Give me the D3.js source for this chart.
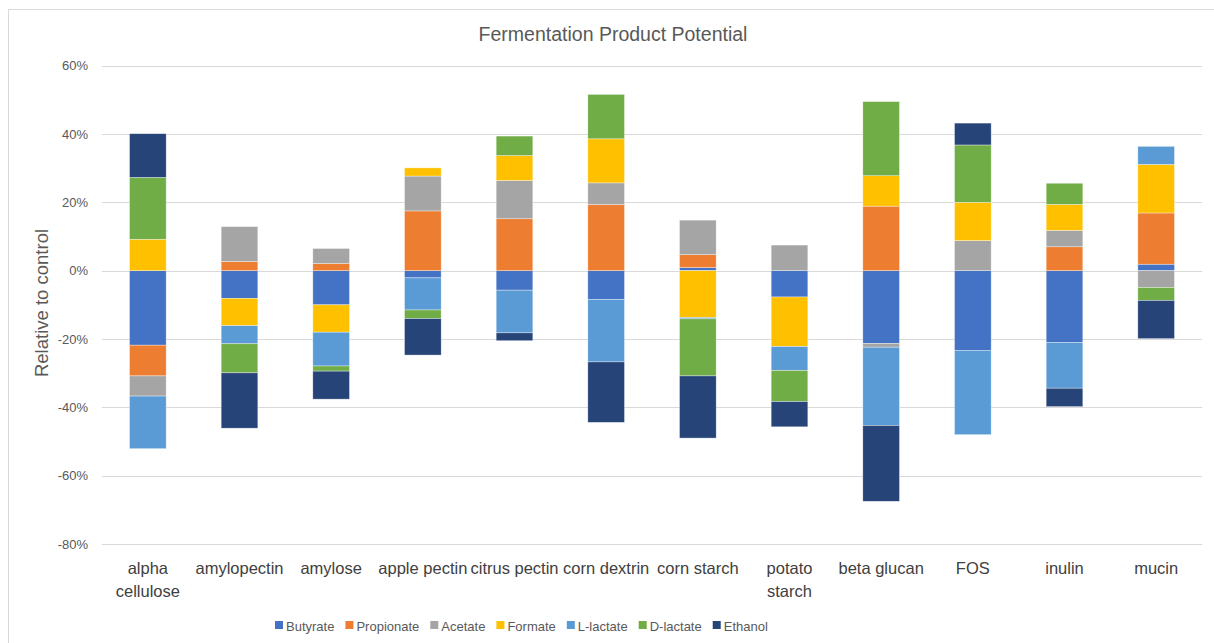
<!DOCTYPE html>
<html><head><meta charset="utf-8">
<script src="https://cdn.jsdelivr.net/npm/d3@7"></script>
<style>body{margin:0;background:#fff;} text{font-family:"Liberation Sans",Arial,sans-serif;}</style>
</head><body><svg id="c" width="1214" height="643"></svg>
<script>
const categories = ["alpha\ncellulose","amylopectin","amylose","apple pectin","citrus pectin","corn dextrin","corn starch","potato\nstarch","beta glucan","FOS","inulin","mucin"];
const seriesNames = ["Butyrate","Propionate","Acetate","Formate","L-lactate","D-lactate","Ethanol"];
const butyrate   = [-21.8, -8.1, -10.0, -2.1, -5.7, -8.4, 0.9, -7.7, -21.3, -23.3, -21.0, 1.9];
const propionate = [-9.0, 2.7, 2.1, 17.5, 15.2, 19.4, 3.8, 0, 18.9, 0, 7.0, 15.0];
const acetate    = [-5.9, 10.2, 4.4, 10.2, 11.2, 6.3, 10.1, 7.5, -1.1, 8.8, 4.8, -4.9];
const formate    = [9.2, -8.0, -8.0, 2.4, 7.3, 12.9, -13.7, -14.5, 8.9, 11.2, 7.6, 14.2];
const llactate   = [-15.4, -5.3, -9.9, -9.4, -12.5, -18.3, -0.4, -7.0, -22.9, -24.7, -13.4, 5.3];
const dlactate   = [18.1, -8.5, -1.5, -2.5, 5.7, 13.0, -16.7, -9.1, 21.7, 16.8, 6.2, -3.8];
const ethanol    = [12.8, -16.2, -8.2, -10.7, -2.3, -17.7, -18.2, -7.4, -22.2, 6.4, -5.4, -11.2];
const yTicks = [-80,-60,-40,-20,0,20,40,60];
const colors = ["#4472C4","#ED7D31","#A5A5A5","#FFC000","#5B9BD5","#70AD47","#264478"];

const seriesValues = [butyrate, propionate, acetate, formate, llactate, dlactate, ethanol];
const rows = categories.map((c,i)=>{const r={cat:c}; seriesNames.forEach((s,j)=>r[s]=seriesValues[j][i]); return r;});

const svg = d3.select("#c");
const txt = "#595959";
svg.append("rect").attr("x",8.5).attr("y",9.5).attr("width",1240).attr("height",700)
  .attr("fill","none").attr("stroke","#d9d9d9").attr("stroke-width",1);

const x = d3.scaleBand().domain(categories).range([102,1202]).paddingInner(0.6).paddingOuter(0.3);
const y = d3.scaleLinear().domain([-80,60]).range([544,65.7]);

svg.append("g").selectAll("line").data(yTicks).join("line")
  .attr("x1",102).attr("x2",1202).attr("y1",d=>Math.round(y(d))+0.5).attr("y2",d=>Math.round(y(d))+0.5)
  .attr("stroke","#d9d9d9").attr("stroke-width",1);

const yAxis = d3.axisLeft(y).tickValues(yTicks).tickFormat(d=>d+"%").tickSize(0).tickPadding(14);
const ga = svg.append("g").attr("transform","translate(102,0)").call(yAxis);
ga.select(".domain").remove();
ga.selectAll("text").attr("fill",txt).style("font-size","13px").style("font-family","'Liberation Sans',Arial,sans-serif");

const stack = d3.stack().keys(seriesNames).offset(d3.stackOffsetDiverging);
const layers = stack(rows);
svg.append("g").selectAll("g").data(layers).join("g").attr("fill",(d,i)=>colors[i])
  .selectAll("rect").data(d=>d).join("rect")
  .attr("x",d=>x(d.data.cat)).attr("width",x.bandwidth())
  .attr("y",d=>y(Math.max(d[0],d[1]))).attr("height",d=>Math.abs(y(d[0])-y(d[1])))
  .attr("stroke","#ffffff").attr("stroke-width",0.6).attr("stroke-opacity",0.6);

const xl = svg.append("g");
categories.forEach(c=>{
  const cx = x(c)+x.bandwidth()/2;
  const t = xl.append("text").attr("x",cx).attr("y",574).attr("text-anchor","middle")
    .attr("fill","#404040").style("font-size","16.5px");
  c.split("\n").forEach((line,i)=>t.append("tspan").attr("x",cx).attr("dy",i?23:0).text(line));
});

svg.append("text").attr("x",613).attr("y",41).attr("text-anchor","middle").attr("fill",txt)
  .style("font-size","19.5px").text("Fermentation Product Potential");
svg.append("text").attr("transform","translate(48,303) rotate(-90)").attr("text-anchor","middle")
  .attr("fill",txt).style("font-size","18.5px").text("Relative to control");

const lg = svg.append("g");
let lx = 275;
seriesNames.forEach((s,i)=>{
  lg.append("rect").attr("x",lx).attr("y",621).attr("width",8).attr("height",8).attr("fill",colors[i]);
  const t = lg.append("text").attr("x",lx+11).attr("y",630.5).attr("fill",txt).style("font-size","13px").text(s);
  lx += 11 + t.node().getComputedTextLength() + 11;
});
</script></body></html>
